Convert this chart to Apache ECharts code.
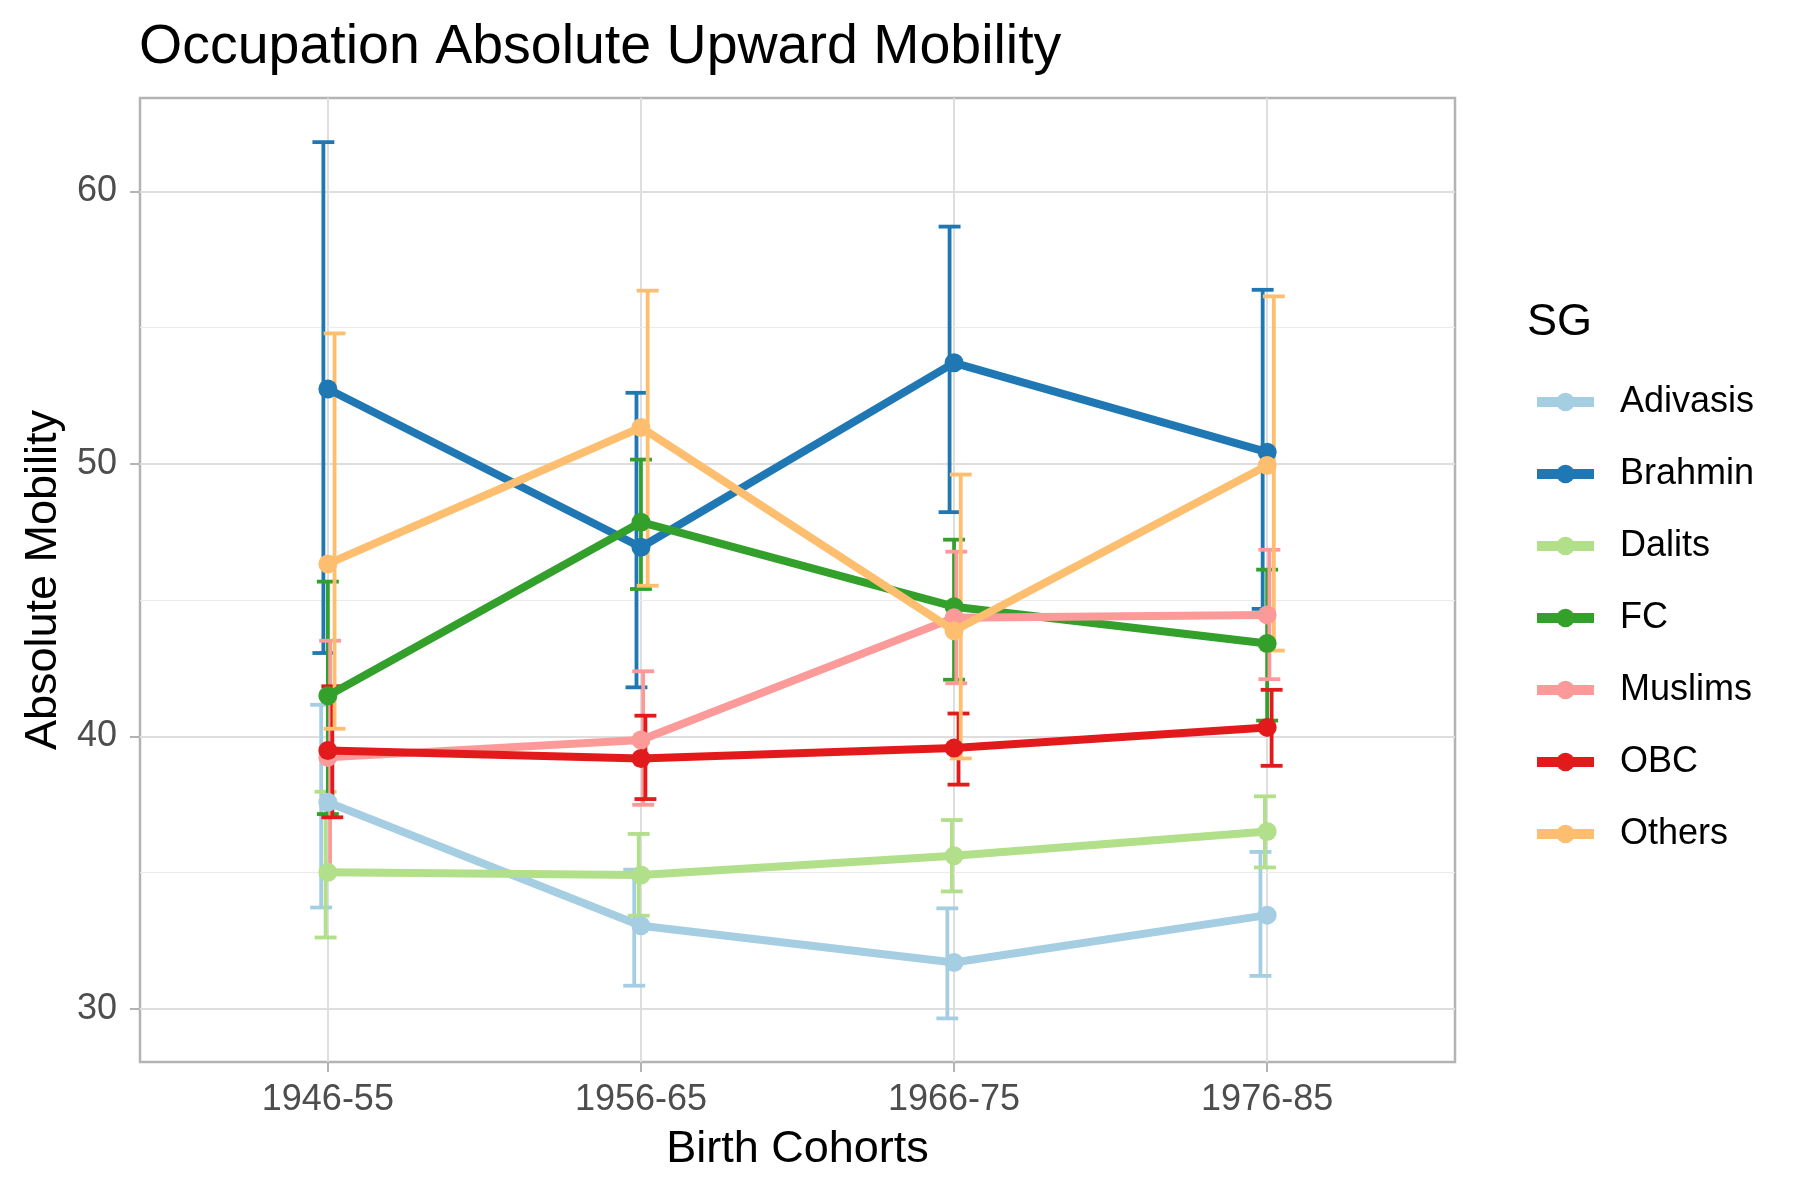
<!DOCTYPE html>
<html>
<head>
<meta charset="utf-8">
<script src="https://cdn.jsdelivr.net/npm/echarts@6/dist/echarts.min.js"></script>
<style>html,body{margin:0;padding:0;background:#fff}#c{width:1800px;height:1200px}</style>
</head>
<body>
<div id="c"></div>
<script>
// ---- data ----
const cohorts = ['1946-55', '1956-65', '1966-75', '1976-85'];
const groups = ['Adivasis', 'Brahmin', 'Dalits', 'FC', 'Muslims', 'OBC', 'Others'];
const colors = ['#A6CEE3', '#1F78B4', '#B2DF8A', '#33A02C', '#FB9A99', '#E31A1C', '#FDBF6F'];

const adivasisMean = [37.58, 33.05, 31.70, 33.44];
const adivasisLo   = [33.72, 30.85, 29.65, 31.21];
const adivasisHi   = [41.16, 35.11, 33.69, 35.76];

const brahminMean = [52.75, 46.94, 53.71, 50.43];
const brahminLo   = [43.06, 41.80, 48.23, 44.68];
const brahminHi   = [61.81, 52.61, 58.71, 56.39];

const dalitsMean = [35.01, 34.91, 35.62, 36.51];
const dalitsLo   = [32.62, 33.42, 34.31, 35.19];
const dalitsHi   = [37.97, 36.42, 36.93, 37.80];

const fcMean = [41.49, 47.86, 44.76, 43.41];
const fcLo   = [37.15, 45.41, 42.08, 40.58];
const fcHi   = [45.68, 50.16, 47.22, 46.12];

const muslimsMean = [39.23, 39.87, 44.35, 44.46];
const muslimsLo   = [34.95, 37.49, 41.95, 42.10];
const muslimsHi   = [43.51, 42.39, 46.78, 46.85];

const obcMean = [39.48, 39.19, 39.57, 40.33];
const obcLo   = [37.03, 37.70, 38.23, 38.92];
const obcHi   = [41.84, 40.76, 40.84, 41.71];

const othersMean = [46.33, 51.34, 43.88, 49.94];
const othersLo   = [40.28, 45.53, 39.19, 43.15];
const othersHi   = [54.79, 56.36, 49.61, 56.15];

const yTicks = [30, 40, 50, 60];
const yMinor = [35, 45, 55];

const means = [adivasisMean, brahminMean, dalitsMean, fcMean, muslimsMean, obcMean, othersMean];
const los = [adivasisLo, brahminLo, dalitsLo, fcLo, muslimsLo, obcLo, othersLo];
const his = [adivasisHi, brahminHi, dalitsHi, fcHi, muslimsHi, obcHi, othersHi];

// ---- chart ----
const FONT = 'Liberation Sans, Arial, Helvetica, sans-serif';
const xPos = cohorts.map((c, i) => i + 1);
const dodgeStep = 0.05 / 7;
const capHalf = 0.035;

const series = [];
groups.forEach((g, gi) => {
  const off = (gi - 3) * dodgeStep;
  series.push({
    name: g + '_err',
    type: 'custom',
    z: 2,
    silent: true,
    data: xPos.map((x, i) => [x, los[gi][i], his[gi][i]]),
    encode: { x: 0, y: [1, 2] },
    renderItem: function (params, api) {
      const x = api.value(0) + off;
      const pLo = api.coord([x, api.value(1)]);
      const pHi = api.coord([x, api.value(2)]);
      const half = api.size([capHalf, 0])[0];
      const st = { stroke: colors[gi], lineWidth: 3.8 };
      return {
        type: 'group',
        children: [
          { type: 'line', shape: { x1: pLo[0], y1: pLo[1], x2: pHi[0], y2: pHi[1] }, style: st },
          { type: 'line', shape: { x1: pHi[0] - half, y1: pHi[1], x2: pHi[0] + half, y2: pHi[1] }, style: st },
          { type: 'line', shape: { x1: pLo[0] - half, y1: pLo[1], x2: pLo[0] + half, y2: pLo[1] }, style: st }
        ]
      };
    }
  });
});
groups.forEach((g, gi) => {
  const s = {
    name: g,
    type: 'line',
    z: 3 + gi * 0.01,
    data: xPos.map((x, i) => [x, means[gi][i]]),
    symbol: 'circle',
    symbolSize: 19,
    showSymbol: true,
    lineStyle: { color: colors[gi], width: 8 },
    itemStyle: { color: colors[gi] },
    emphasis: { disabled: true },
    silent: true
  };
  if (gi === 0) {
    s.markLine = {
      silent: true,
      symbol: 'none',
      z: 1,
      label: { show: false },
      lineStyle: { color: '#ebebeb', width: 1.2, type: 'solid' },
      data: yMinor.map(v => ({ yAxis: v }))
    };
  }
  series.push(s);
});

const chart = echarts.init(document.getElementById('c'), null, { renderer: 'canvas' });
chart.setOption({
  animation: false,
  backgroundColor: '#ffffff',
  textStyle: { fontFamily: FONT },
  title: [
    {
      text: 'Occupation Absolute Upward Mobility',
      left: 139, top: 20, padding: 0,
      textStyle: { fontFamily: FONT, fontSize: 55.5, fontWeight: 'normal', color: '#000000' }
    },
    {
      text: 'SG',
      left: 1527, top: 300, padding: 0,
      textStyle: { fontFamily: FONT, fontSize: 45, fontWeight: 'normal', color: '#000000' }
    }
  ],
  legend: {
    data: groups,
    orient: 'vertical',
    left: 1532, top: 384,
    padding: 0,
    itemWidth: 57, itemHeight: 23,
    itemGap: 36,
    selectedMode: false,
    lineStyle: { width: 10 },
    textStyle: { fontFamily: FONT, fontSize: 36, lineHeight: 36, color: '#000000', padding: [0, 0, 0, 21] }
  },
  grid: {
    left: 140, right: 345, top: 98, bottom: 138,
    show: true, borderColor: '#b3b3b3', borderWidth: 2.5, backgroundColor: 'transparent'
  },
  xAxis: {
    type: 'value',
    min: 0.4, max: 4.6,
    name: 'Birth Cohorts',
    nameLocation: 'middle',
    nameGap: 65,
    nameTextStyle: { fontFamily: FONT, fontSize: 45, color: '#000000' },
    axisLine: { show: false },
    axisTick: { show: true, customValues: xPos, length: 10, lineStyle: { color: '#b3b3b3', width: 2 } },
    axisLabel: {
      customValues: xPos, margin: 20,
      fontFamily: FONT, fontSize: 36, color: '#4d4d4d',
      formatter: v => cohorts[Math.round(v) - 1] || ''
    },
    splitLine: { show: true, lineStyle: { color: '#dedede', width: 2 } }
  },
  yAxis: {
    type: 'value',
    min: 28.05, max: 63.43,
    name: 'Absolute Mobility',
    nameLocation: 'middle',
    nameGap: 67,
    nameTextStyle: { fontFamily: FONT, fontSize: 45, color: '#000000' },
    axisLine: { show: false },
    axisTick: { show: true, customValues: yTicks, length: 10, lineStyle: { color: '#b3b3b3', width: 2 } },
    axisLabel: { customValues: yTicks, margin: 23, fontFamily: FONT, fontSize: 36, color: '#4d4d4d' },
    splitLine: { show: true, lineStyle: { color: '#dedede', width: 2 } }
  },
  series: series
});
</script>
</body>
</html>
